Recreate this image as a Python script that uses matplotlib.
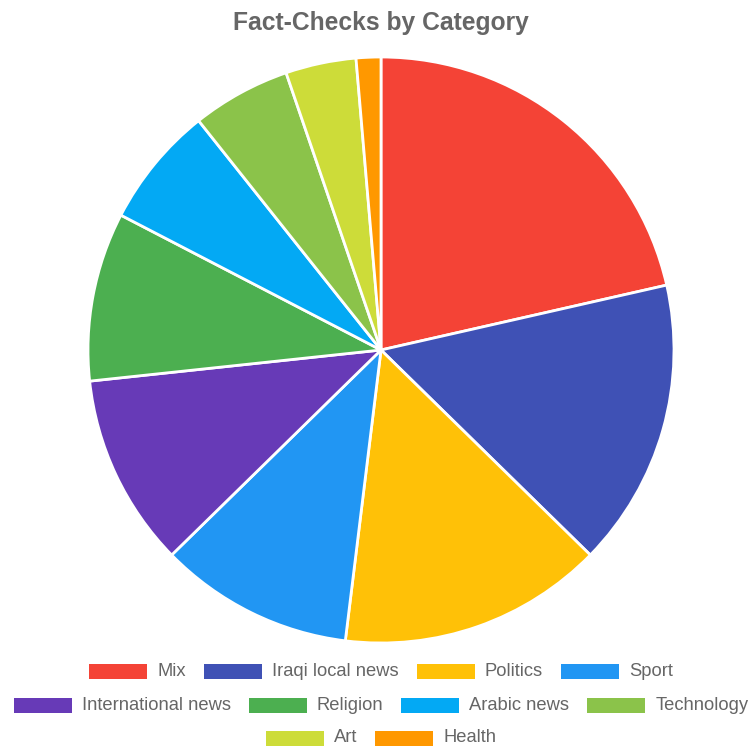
import matplotlib.pyplot as plt
from matplotlib.patches import Rectangle

plt.rcParams['font.family'] = ['Liberation Sans', 'DejaVu Sans']

# fact-check counts per category (share of the whole, in degrees of the pie)
categories = ['Mix', 'Iraqi local news', 'Politics', 'Sport', 'International news',
              'Religion', 'Arabic news', 'Technology', 'Art', 'Health']
counts = [77.2, 57.2, 52.6, 38.6, 38.3, 33.5, 24.1, 19.6, 14.0, 4.9]
colors = ['#F44336', '#3F51B5', '#FFC107', '#2196F3', '#673AB7',
          '#4CAF50', '#03A9F4', '#8BC34A', '#CDDC39', '#FF9800']
legend_rows = [[0, 1, 2, 3], [4, 5, 6, 7], [8, 9]]

W, H = 750, 749
fig = plt.figure(figsize=(W / 100, H / 100), dpi=100)

cx, cy, r = 381, 350, 293
ax = fig.add_axes([(cx - r) / W, (H - cy - r) / H, 2 * r / W, 2 * r / H])
ax.pie(counts, colors=colors, startangle=90, counterclock=False,
       wedgeprops=dict(edgecolor='white', linewidth=2))
ax.set_xlim(-1, 1)
ax.set_ylim(-1, 1)
ax.set_aspect('equal')
ax.axis('off')

fig.text(cx / W, 1 - 23 / H, 'Fact-Checks by Category', ha='center', va='center',
         fontsize=17.7, fontweight='bold', color='#666666')

# legend drawn by hand so that each row is centred on its own
renderer = fig.canvas.get_renderer()
box_w, box_h, pad, gap = 58, 15, 10, 18
row_y = [671, 705, 738]
fs = 13.2
for row, y in zip(legend_rows, row_y):
    widths = []
    for i in row:
        t = fig.text(0, 0, categories[i], fontsize=fs)
        widths.append(t.get_window_extent(renderer).width)
        t.remove()
    total = sum(box_w + pad + w for w in widths) + gap * (len(row) - 1)
    x = cx - total / 2
    for i, w in zip(row, widths):
        fig.add_artist(Rectangle((x / W, 1 - (y + box_h / 2) / H), box_w / W, box_h / H,
                                 transform=fig.transFigure, facecolor=colors[i],
                                 edgecolor='none'))
        fig.text((x + box_w + pad) / W, 1 - y / H, categories[i], fontsize=fs,
                 color='#666666', ha='left', va='center')
        x += box_w + pad + w + gap

fig.savefig('out.png', dpi=100, facecolor='white')
